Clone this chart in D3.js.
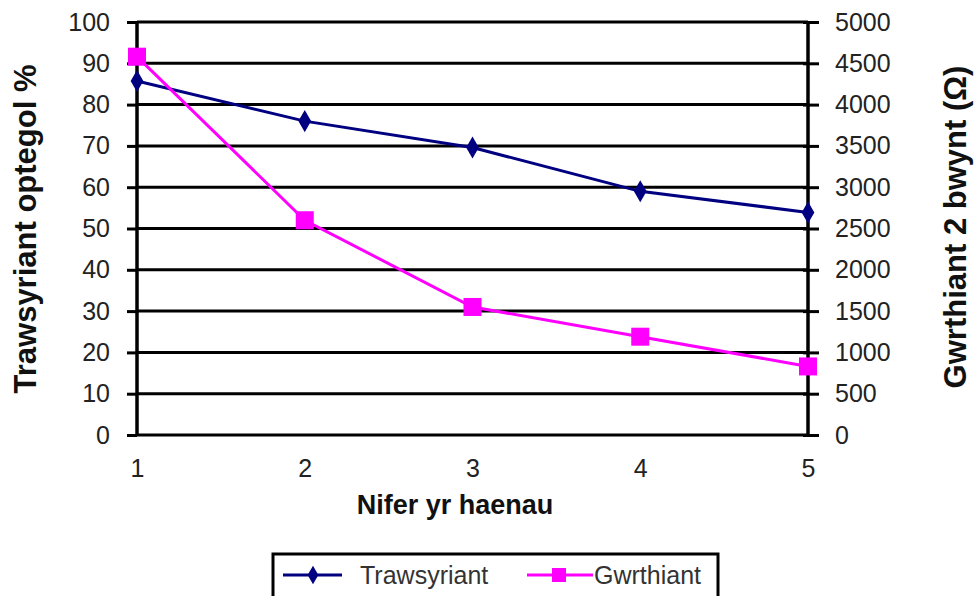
<!DOCTYPE html>
<html><head><meta charset="utf-8">
<script src="https://cdn.jsdelivr.net/npm/d3@7"></script>
<style>body{margin:0;background:#fff}svg{display:block}</style>
</head><body>
<svg id="c" width="975" height="596"></svg>
<script>
const categories = [1, 2, 3, 4, 5];
const trawsyriant = [85.7, 76.0, 69.6, 59.0, 53.9];
const gwrthiant = [4580, 2600, 1550, 1190, 830];
const leftTicks = [0,10,20,30,40,50,60,70,80,90,100];
const rightTicks = [0,500,1000,1500,2000,2500,3000,3500,4000,4500,5000];

const svg = d3.select("#c");
const L = 137, R = 808, T = 22, B = 435;
const x = d3.scalePoint().domain(categories).range([L, R]);
const yL = d3.scaleLinear().domain([0, 100]).range([B, T]);
const yR = d3.scaleLinear().domain([0, 5000]).range([B, T]);
const font = "Liberation Sans, Arial, sans-serif";

// gridlines
svg.append("g").selectAll("line").data(leftTicks).join("line")
  .attr("x1", L).attr("x2", R).attr("y1", d => yL(d)).attr("y2", d => yL(d))
  .attr("stroke", "#000").attr("stroke-width", 3);

// left axis
const gL = svg.append("g").attr("transform", `translate(${L},0)`)
  .call(d3.axisLeft(yL).tickValues(leftTicks).tickSize(10).tickPadding(17));
gL.attr("font-size", null).attr("font-family", null);
gL.select(".domain").attr("stroke-width", 3.5).attr("d", `M0,${T}V${B}`);
gL.selectAll(".tick line").attr("stroke-width", 3);
gL.selectAll("text").style("font-family", font).style("font-size", "25px").attr("fill", "#222");

// right axis
const gR = svg.append("g").attr("transform", `translate(${R},0)`)
  .call(d3.axisRight(yR).tickValues(rightTicks).tickFormat(d3.format("d")).tickSize(11).tickPadding(16));
gR.attr("font-size", null).attr("font-family", null);
gR.select(".domain").attr("stroke-width", 3.5).attr("d", `M0,${T}V${B}`);
gR.selectAll(".tick line").attr("stroke-width", 3).attr("x1", -5);
gR.selectAll("text").style("font-family", font).style("font-size", "25px").attr("fill", "#222");

// bottom axis
const gB = svg.append("g").attr("transform", `translate(0,${B})`)
  .call(d3.axisBottom(x).tickSize(0).tickPadding(24));
gB.attr("font-size", null).attr("font-family", null);
gB.select(".domain").remove();
gB.selectAll("text").style("font-family", font).style("font-size", "25px").attr("fill", "#222");

// series
const blue = "#000080", pink = "#ff00ff";
svg.append("path").datum(categories.map((c,i)=>[x(c), yL(trawsyriant[i])]))
  .attr("d", d3.line()).attr("fill","none").attr("stroke", blue).attr("stroke-width", 3);
svg.append("path").datum(categories.map((c,i)=>[x(c), yR(gwrthiant[i])]))
  .attr("d", d3.line()).attr("fill","none").attr("stroke", pink).attr("stroke-width", 3);

const diamond = d3.symbol().type(d3.symbolDiamond).size(140);
svg.append("g").selectAll("path").data(categories).join("path")
  .attr("transform", (c,i) => `translate(${x(c)},${yL(trawsyriant[i])})`)
  .attr("d", diamond).attr("fill", blue);
svg.append("g").selectAll("rect").data(categories).join("rect")
  .attr("x", (c) => x(c) - 9).attr("y", (c,i) => yR(gwrthiant[i]) - 9)
  .attr("width", 18).attr("height", 18).attr("fill", pink);

// titles
svg.append("text").attr("transform", `translate(36,229) rotate(-90)`)
  .attr("text-anchor","middle").style("font-family", font).attr("font-weight","bold")
  .style("font-size", "31px").attr("fill","#111").text("Trawsyriant optegol %");
svg.append("text").attr("transform", `translate(966,227) rotate(-90)`)
  .attr("text-anchor","middle").style("font-family", font).attr("font-weight","bold")
  .style("font-size", "31px").attr("fill","#111").text("Gwrthiant 2 bwynt (Ω)");
svg.append("text").attr("x", 455).attr("y", 514)
  .attr("text-anchor","middle").style("font-family", font).attr("font-weight","bold")
  .style("font-size", "27px").attr("fill","#111").text("Nifer yr haenau");

// legend
svg.append("rect").attr("x", 273).attr("y", 554).attr("width", 445).attr("height", 60)
  .attr("fill","#fff").attr("stroke","#000").attr("stroke-width", 3);
const ly = 575;
svg.append("line").attr("x1", 283).attr("x2", 342).attr("y1", ly).attr("y2", ly)
  .attr("stroke", blue).attr("stroke-width", 3);
svg.append("path").attr("transform", `translate(313,${ly})`).attr("d", d3.symbol().type(d3.symbolDiamond).size(100)).attr("fill", blue);
svg.append("text").attr("x", 360).attr("y", ly + 9).style("font-family", font)
  .style("font-size", "25px").attr("fill", "#333").text("Trawsyriant");
svg.append("line").attr("x1", 527).attr("x2", 593).attr("y1", ly).attr("y2", ly)
  .attr("stroke", pink).attr("stroke-width", 3);
svg.append("rect").attr("x", 552).attr("y", ly-7).attr("width", 14).attr("height", 14).attr("fill", pink);
svg.append("text").attr("x", 594).attr("y", ly + 9).style("font-family", font)
  .style("font-size", "25px").attr("fill", "#333").text("Gwrthiant");
</script>
</body></html>
